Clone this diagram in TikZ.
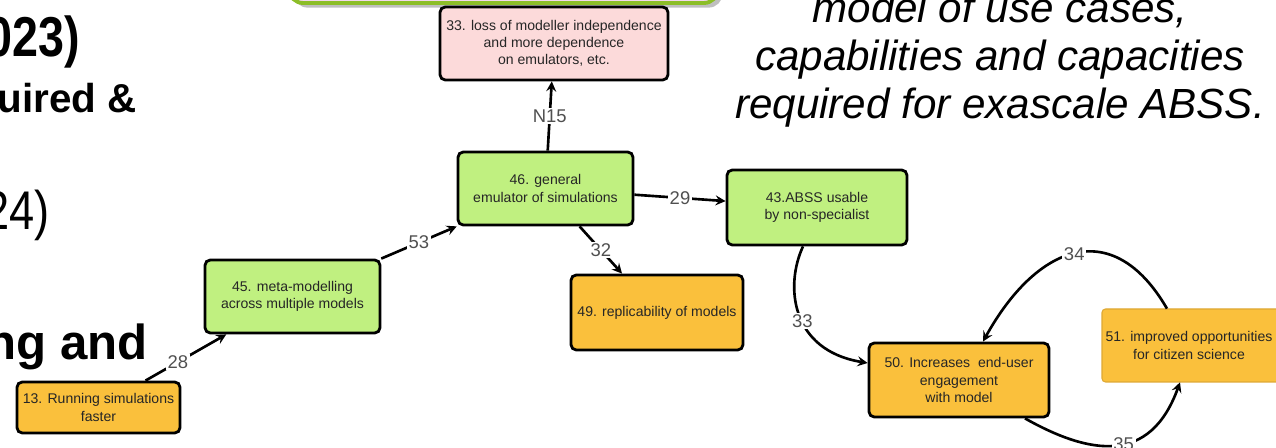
\documentclass[tikz,border=0pt]{standalone}
\usepackage{fontspec}
\setmainfont{Liberation Sans}
\newfontfamily\narrowfont[FakeStretch=0.83]{Liberation Sans}
\usepackage{tikz}
\usetikzlibrary{arrows, shapes, shadows, calc}

\definecolor{boxgreen}{RGB}{192,240,128}
\definecolor{boxorange}{RGB}{250,192,60}
\definecolor{boxorangeline}{RGB}{222,168,52}
\definecolor{boxpink}{RGB}{252,218,218}
\definecolor{slidepink}{RGB}{242,216,236}
\definecolor{slidegreen}{RGB}{140,190,40}
\definecolor{numgray}{RGB}{80,80,80}

\def\px{0.02cm}
\tikzstyle{box} = [rectangle, rounded corners=3pt, draw=black, line width=1.6pt, align=center, text=black!85, font=\fontsize{8}{9.7}\selectfont]
\tikzstyle{greenbox} = [box, fill=boxgreen]
\tikzstyle{orangebox} = [box, fill=boxorange]
\tikzstyle{pinkbox} = [box, fill=boxpink]
\tikzstyle{arrow} = [line width=1.5pt,->,>=stealth]
\tikzstyle{num} = [fill=white, inner sep=1pt, text=numgray, font=\fontsize{10.5}{12}\selectfont]
\tikzstyle{slidetext} = [inner sep=0pt, text=black]
\tikzstyle{caption} = [slidetext, anchor=base, font=\itshape\fontsize{24}{29}\selectfont]

\begin{document}
\begin{tikzpicture}[x=\px, y=-\px]
\clip (0,0) rectangle (1276,448);

% text of the slide behind the diagram
\node (t1) [slidetext, anchor=base east, font=\narrowfont\bfseries\fontsize{32}{38}\selectfont] at (80,57) {023)};
\node (t2) [slidetext, anchor=base east, font=\bfseries\fontsize{23}{28}\selectfont] at (137,113) {uired \&};
\node (t3) [slidetext, anchor=base east, font=\narrowfont\fontsize{31}{37}\selectfont] at (50,230) {24)};
\node (t4) [slidetext, anchor=base east, font=\bfseries\fontsize{28}{34}\selectfont] at (148,360) {ng and};
\node (c1) [caption] at (1000,23) {model of use cases,};
\node (c2) [caption] at (1000,71) {capabilities and capacities};
\node (c3) [caption] at (1000,119) {required for exascale ABSS.};
\draw [rounded corners=8pt, draw=slidegreen, line width=2.2pt, fill=slidepink, drop shadow] (289,-40) rectangle (718,3);

% boxes
\node (n33) [pinkbox, minimum width=228*\px, minimum height=73*\px] at (554,43.5) {33. loss of modeller independence\\and more dependence\\on emulators, etc.};
\node (n46) [greenbox, minimum width=175*\px, minimum height=73*\px] at (545.5,188.5) {46. general\\emulator of simulations};
\node (n43) [greenbox, minimum width=180*\px, minimum height=75*\px] at (817,207.5) {43.ABSS usable\\by non-specialist};
\node (n49) [orangebox, minimum width=172*\px, minimum height=75*\px] at (657,312.5) {49. replicability of models};
\node (n45) [greenbox, minimum width=175*\px, minimum height=73*\px] at (292.5,296.5) {45. meta-modelling\\across multiple models};
\node (n13) [orangebox, minimum width=163*\px, minimum height=51*\px] at (98.5,407.5) {13. Running simulations\\faster};
\node (n50) [orangebox, minimum width=180*\px, minimum height=74*\px] at (959,380) {50. Increases \ end-user\\engagement\\with model};
\draw [fill=boxorange, draw=boxorangeline, rounded corners=2pt, line width=0.6pt] (1102,309) rectangle (1330,382);
\node (n51) [align=center, text=black!85, font=\fontsize{8}{9.7}\selectfont, minimum width=174*\px, minimum height=73*\px] at (1189,345.5) {51. improved opportunities\\for citizen science};

% links
\draw [arrow] (n13) -- node[num, pos=0.4] {28} (n45);
\draw [arrow] (n45) -- node[num] {53} (n46);
\draw [arrow] (n46) -- node[num] {N15} (n33);
\draw [arrow] (n46) -- node[num] {29} (n43);
\draw [arrow] (n46) -- node[num] {32} (n49);
\draw [arrow] ($(n43.south)+(-14,0)$) .. controls (785,285) and (790,350) .. node[num, pos=0.55] {33} ($(n50.west)+(0,-17)$);
\draw [arrow] ($(n51.north)+(-22,0)$) .. controls (1112,214) and (1036,246) .. node[num] {34} ($(n50.north)+(24,0)$);
\draw [arrow] ($(n50.south)+(66,0)$) .. controls (1090,455) and (1150,465) .. node[num, pos=0.55] {35} ($(n51.south)+(-9,0)$);

\end{tikzpicture}
\end{document}
